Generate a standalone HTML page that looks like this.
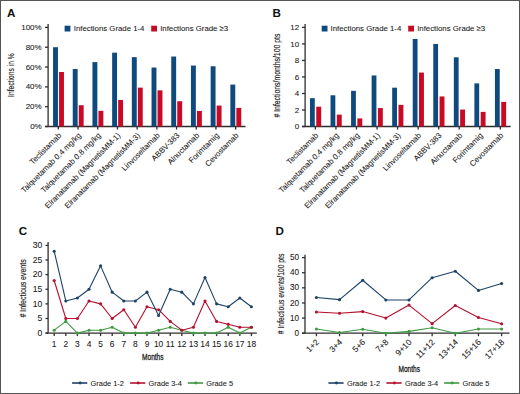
<!DOCTYPE html>
<html><head><meta charset="utf-8"><style>
html,body{margin:0;padding:0;background:#fff;}
body{width:520px;height:394px;overflow:hidden;}
.frame{position:relative;width:520px;height:394px;box-sizing:border-box;border:1px solid #555;background:#fff;}
svg{position:absolute;left:-1px;top:-1px;}
text{font-family:"Liberation Sans", sans-serif;}
</style></head><body><div class="frame">
<svg width="520" height="394" viewBox="0 0 520 394" font-family="Liberation Sans, sans-serif">
<text x="6.90" y="16.80" font-size="11.6" text-anchor="start" fill="#111" font-weight="bold" >A</text>
<line x1="48.10" y1="24.00" x2="48.10" y2="126.50" stroke="#2e2e2e" stroke-width="1.3"/>
<line x1="45.00" y1="27.40" x2="48.10" y2="27.40" stroke="#2e2e2e" stroke-width="1.3"/>
<text x="41.70" y="29.90" font-size="8" text-anchor="end" fill="#1a1a1a" font-weight="normal" stroke="#1a1a1a" stroke-width="0.08" >100%</text>
<line x1="45.00" y1="47.22" x2="48.10" y2="47.22" stroke="#2e2e2e" stroke-width="1.3"/>
<text x="41.70" y="49.72" font-size="8" text-anchor="end" fill="#1a1a1a" font-weight="normal" stroke="#1a1a1a" stroke-width="0.08" >80%</text>
<line x1="45.00" y1="67.04" x2="48.10" y2="67.04" stroke="#2e2e2e" stroke-width="1.3"/>
<text x="41.70" y="69.54" font-size="8" text-anchor="end" fill="#1a1a1a" font-weight="normal" stroke="#1a1a1a" stroke-width="0.08" >60%</text>
<line x1="45.00" y1="86.86" x2="48.10" y2="86.86" stroke="#2e2e2e" stroke-width="1.3"/>
<text x="41.70" y="89.36" font-size="8" text-anchor="end" fill="#1a1a1a" font-weight="normal" stroke="#1a1a1a" stroke-width="0.08" >40%</text>
<line x1="45.00" y1="106.68" x2="48.10" y2="106.68" stroke="#2e2e2e" stroke-width="1.3"/>
<text x="41.70" y="109.18" font-size="8" text-anchor="end" fill="#1a1a1a" font-weight="normal" stroke="#1a1a1a" stroke-width="0.08" >20%</text>
<line x1="45.00" y1="126.50" x2="48.10" y2="126.50" stroke="#2e2e2e" stroke-width="1.3"/>
<text x="41.70" y="129.00" font-size="8" text-anchor="end" fill="#1a1a1a" font-weight="normal" stroke="#1a1a1a" stroke-width="0.08" >0%</text>
<line x1="45.00" y1="126.50" x2="245.50" y2="126.50" stroke="#2e2e2e" stroke-width="1.3"/>
<line x1="58.35" y1="126.50" x2="58.35" y2="129.50" stroke="#2e2e2e" stroke-width="1.3"/>
<rect x="53.05" y="47.22" width="4.90" height="79.28" fill="#0f4a7e"/>
<rect x="59.05" y="72.00" width="4.90" height="54.51" fill="#c90a24"/>
<text transform="translate(61.85,136.00) rotate(-45)" x="0" y="0" font-size="7.8" text-anchor="end" fill="#1a1a1a" stroke="#1a1a1a" stroke-width="0.08">Teclistamab</text>
<line x1="78.05" y1="126.50" x2="78.05" y2="129.50" stroke="#2e2e2e" stroke-width="1.3"/>
<rect x="72.75" y="69.02" width="4.90" height="57.48" fill="#0f4a7e"/>
<rect x="78.75" y="105.19" width="4.90" height="21.31" fill="#c90a24"/>
<text transform="translate(81.55,136.00) rotate(-45)" x="0" y="0" font-size="7.8" text-anchor="end" fill="#1a1a1a" stroke="#1a1a1a" stroke-width="0.08">Talquetamab 0.4 mg/kg</text>
<line x1="97.75" y1="126.50" x2="97.75" y2="129.50" stroke="#2e2e2e" stroke-width="1.3"/>
<rect x="92.45" y="62.09" width="4.90" height="64.41" fill="#0f4a7e"/>
<rect x="98.45" y="110.84" width="4.90" height="15.66" fill="#c90a24"/>
<text transform="translate(101.25,136.00) rotate(-45)" x="0" y="0" font-size="7.8" text-anchor="end" fill="#1a1a1a" stroke="#1a1a1a" stroke-width="0.08">Talquetamab 0.8 mg/kg</text>
<line x1="117.45" y1="126.50" x2="117.45" y2="129.50" stroke="#2e2e2e" stroke-width="1.3"/>
<rect x="112.15" y="52.67" width="4.90" height="73.83" fill="#0f4a7e"/>
<rect x="118.15" y="99.94" width="4.90" height="26.56" fill="#c90a24"/>
<text transform="translate(120.95,136.00) rotate(-45)" x="0" y="0" font-size="7.8" text-anchor="end" fill="#1a1a1a" stroke="#1a1a1a" stroke-width="0.08">Elranatamab (MagnetisMM-1)</text>
<line x1="137.15" y1="126.50" x2="137.15" y2="129.50" stroke="#2e2e2e" stroke-width="1.3"/>
<rect x="131.85" y="57.13" width="4.90" height="69.37" fill="#0f4a7e"/>
<rect x="137.85" y="87.65" width="4.90" height="38.85" fill="#c90a24"/>
<text transform="translate(140.65,136.00) rotate(-45)" x="0" y="0" font-size="7.8" text-anchor="end" fill="#1a1a1a" stroke="#1a1a1a" stroke-width="0.08">Elranatamab (MagnetisMM-3)</text>
<line x1="156.85" y1="126.50" x2="156.85" y2="129.50" stroke="#2e2e2e" stroke-width="1.3"/>
<rect x="151.55" y="67.54" width="4.90" height="58.96" fill="#0f4a7e"/>
<rect x="157.55" y="90.33" width="4.90" height="36.17" fill="#c90a24"/>
<text transform="translate(160.35,136.00) rotate(-45)" x="0" y="0" font-size="7.8" text-anchor="end" fill="#1a1a1a" stroke="#1a1a1a" stroke-width="0.08">Linvoseltamab</text>
<line x1="176.55" y1="126.50" x2="176.55" y2="129.50" stroke="#2e2e2e" stroke-width="1.3"/>
<rect x="171.25" y="56.54" width="4.90" height="69.96" fill="#0f4a7e"/>
<rect x="177.25" y="101.23" width="4.90" height="25.27" fill="#c90a24"/>
<text transform="translate(180.05,136.00) rotate(-45)" x="0" y="0" font-size="7.8" text-anchor="end" fill="#1a1a1a" stroke="#1a1a1a" stroke-width="0.08">ABBV-383</text>
<line x1="196.25" y1="126.50" x2="196.25" y2="129.50" stroke="#2e2e2e" stroke-width="1.3"/>
<rect x="190.95" y="65.55" width="4.90" height="60.95" fill="#0f4a7e"/>
<rect x="196.95" y="110.94" width="4.90" height="15.56" fill="#c90a24"/>
<text transform="translate(199.75,136.00) rotate(-45)" x="0" y="0" font-size="7.8" text-anchor="end" fill="#1a1a1a" stroke="#1a1a1a" stroke-width="0.08">Alnuctamab</text>
<line x1="215.95" y1="126.50" x2="215.95" y2="129.50" stroke="#2e2e2e" stroke-width="1.3"/>
<rect x="210.65" y="66.25" width="4.90" height="60.25" fill="#0f4a7e"/>
<rect x="216.65" y="105.59" width="4.90" height="20.91" fill="#c90a24"/>
<text transform="translate(219.45,136.00) rotate(-45)" x="0" y="0" font-size="7.8" text-anchor="end" fill="#1a1a1a" stroke="#1a1a1a" stroke-width="0.08">Forimtamig</text>
<line x1="235.65" y1="126.50" x2="235.65" y2="129.50" stroke="#2e2e2e" stroke-width="1.3"/>
<rect x="230.35" y="84.58" width="4.90" height="41.92" fill="#0f4a7e"/>
<rect x="236.35" y="107.87" width="4.90" height="18.63" fill="#c90a24"/>
<text transform="translate(239.15,136.00) rotate(-45)" x="0" y="0" font-size="7.8" text-anchor="end" fill="#1a1a1a" stroke="#1a1a1a" stroke-width="0.08">Cevostamab</text>
<rect x="64.60" y="25.70" width="5.80" height="5.80" fill="#0f4a7e"/>
<text x="73.80" y="31.30" font-size="7.8" text-anchor="start" fill="#1a1a1a" font-weight="normal" stroke="#1a1a1a" stroke-width="0.08" >Infections Grade 1-4</text>
<rect x="151.20" y="25.70" width="5.80" height="5.80" fill="#c90a24"/>
<text x="160.20" y="31.30" font-size="7.8" text-anchor="start" fill="#1a1a1a" font-weight="normal" stroke="#1a1a1a" stroke-width="0.08" >Infections Grade &#8805;3</text>
<text transform="translate(14.30,75.10) rotate(-90)" x="0" y="0" font-size="9.4" text-anchor="middle" textLength="43.6" lengthAdjust="spacingAndGlyphs" fill="#1a1a1a" stroke="#1a1a1a" stroke-width="0.15">Infections in %</text>
<text x="272.60" y="16.70" font-size="11.6" text-anchor="start" fill="#111" font-weight="bold" >B</text>
<line x1="305.10" y1="24.00" x2="305.10" y2="126.50" stroke="#2e2e2e" stroke-width="1.3"/>
<line x1="302.00" y1="27.40" x2="305.10" y2="27.40" stroke="#2e2e2e" stroke-width="1.3"/>
<text x="299.20" y="30.10" font-size="8" text-anchor="end" fill="#1a1a1a" font-weight="normal" stroke="#1a1a1a" stroke-width="0.08" >12</text>
<line x1="302.00" y1="43.92" x2="305.10" y2="43.92" stroke="#2e2e2e" stroke-width="1.3"/>
<text x="299.20" y="46.62" font-size="8" text-anchor="end" fill="#1a1a1a" font-weight="normal" stroke="#1a1a1a" stroke-width="0.08" >10</text>
<line x1="302.00" y1="60.43" x2="305.10" y2="60.43" stroke="#2e2e2e" stroke-width="1.3"/>
<text x="299.20" y="63.13" font-size="8" text-anchor="end" fill="#1a1a1a" font-weight="normal" stroke="#1a1a1a" stroke-width="0.08" >8</text>
<line x1="302.00" y1="76.95" x2="305.10" y2="76.95" stroke="#2e2e2e" stroke-width="1.3"/>
<text x="299.20" y="79.65" font-size="8" text-anchor="end" fill="#1a1a1a" font-weight="normal" stroke="#1a1a1a" stroke-width="0.08" >6</text>
<line x1="302.00" y1="93.47" x2="305.10" y2="93.47" stroke="#2e2e2e" stroke-width="1.3"/>
<text x="299.20" y="96.17" font-size="8" text-anchor="end" fill="#1a1a1a" font-weight="normal" stroke="#1a1a1a" stroke-width="0.08" >4</text>
<line x1="302.00" y1="109.98" x2="305.10" y2="109.98" stroke="#2e2e2e" stroke-width="1.3"/>
<text x="299.20" y="112.68" font-size="8" text-anchor="end" fill="#1a1a1a" font-weight="normal" stroke="#1a1a1a" stroke-width="0.08" >2</text>
<line x1="302.00" y1="126.50" x2="305.10" y2="126.50" stroke="#2e2e2e" stroke-width="1.3"/>
<text x="299.20" y="129.20" font-size="8" text-anchor="end" fill="#1a1a1a" font-weight="normal" stroke="#1a1a1a" stroke-width="0.08" >0</text>
<line x1="302.00" y1="126.50" x2="510.60" y2="126.50" stroke="#2e2e2e" stroke-width="1.3"/>
<line x1="315.38" y1="126.50" x2="315.38" y2="129.50" stroke="#2e2e2e" stroke-width="1.3"/>
<rect x="309.98" y="98.17" width="4.80" height="28.33" fill="#0f4a7e"/>
<rect x="316.27" y="106.68" width="4.90" height="19.82" fill="#c90a24"/>
<text transform="translate(318.88,136.00) rotate(-45)" x="0" y="0" font-size="7.8" text-anchor="end" fill="#1a1a1a" stroke="#1a1a1a" stroke-width="0.08">Teclistamab</text>
<line x1="335.93" y1="126.50" x2="335.93" y2="129.50" stroke="#2e2e2e" stroke-width="1.3"/>
<rect x="330.53" y="95.28" width="4.80" height="31.22" fill="#0f4a7e"/>
<rect x="336.82" y="114.61" width="4.90" height="11.89" fill="#c90a24"/>
<text transform="translate(339.43,136.00) rotate(-45)" x="0" y="0" font-size="7.8" text-anchor="end" fill="#1a1a1a" stroke="#1a1a1a" stroke-width="0.08">Talquetamab 0.4 mg/kg</text>
<line x1="356.48" y1="126.50" x2="356.48" y2="129.50" stroke="#2e2e2e" stroke-width="1.3"/>
<rect x="351.08" y="90.82" width="4.80" height="35.68" fill="#0f4a7e"/>
<rect x="357.38" y="118.41" width="4.90" height="8.09" fill="#c90a24"/>
<text transform="translate(359.98,136.00) rotate(-45)" x="0" y="0" font-size="7.8" text-anchor="end" fill="#1a1a1a" stroke="#1a1a1a" stroke-width="0.08">Talquetamab 0.8 mg/kg</text>
<line x1="377.03" y1="126.50" x2="377.03" y2="129.50" stroke="#2e2e2e" stroke-width="1.3"/>
<rect x="371.63" y="75.46" width="4.80" height="51.04" fill="#0f4a7e"/>
<rect x="377.93" y="108.08" width="4.90" height="18.42" fill="#c90a24"/>
<text transform="translate(380.53,136.00) rotate(-45)" x="0" y="0" font-size="7.8" text-anchor="end" fill="#1a1a1a" stroke="#1a1a1a" stroke-width="0.08">Elranatamab (MagnetisMM-1)</text>
<line x1="397.58" y1="126.50" x2="397.58" y2="129.50" stroke="#2e2e2e" stroke-width="1.3"/>
<rect x="392.18" y="87.69" width="4.80" height="38.81" fill="#0f4a7e"/>
<rect x="398.48" y="104.86" width="4.90" height="21.64" fill="#c90a24"/>
<text transform="translate(401.08,136.00) rotate(-45)" x="0" y="0" font-size="7.8" text-anchor="end" fill="#1a1a1a" stroke="#1a1a1a" stroke-width="0.08">Elranatamab (MagnetisMM-3)</text>
<line x1="418.12" y1="126.50" x2="418.12" y2="129.50" stroke="#2e2e2e" stroke-width="1.3"/>
<rect x="412.73" y="38.96" width="4.80" height="87.54" fill="#0f4a7e"/>
<rect x="419.02" y="72.57" width="4.90" height="53.93" fill="#c90a24"/>
<text transform="translate(421.62,136.00) rotate(-45)" x="0" y="0" font-size="7.8" text-anchor="end" fill="#1a1a1a" stroke="#1a1a1a" stroke-width="0.08">Linvoseltamab</text>
<line x1="438.68" y1="126.50" x2="438.68" y2="129.50" stroke="#2e2e2e" stroke-width="1.3"/>
<rect x="433.28" y="43.92" width="4.80" height="82.58" fill="#0f4a7e"/>
<rect x="439.58" y="96.44" width="4.90" height="30.06" fill="#c90a24"/>
<text transform="translate(442.18,136.00) rotate(-45)" x="0" y="0" font-size="7.8" text-anchor="end" fill="#1a1a1a" stroke="#1a1a1a" stroke-width="0.08">ABBV-383</text>
<line x1="459.23" y1="126.50" x2="459.23" y2="129.50" stroke="#2e2e2e" stroke-width="1.3"/>
<rect x="453.83" y="57.30" width="4.80" height="69.20" fill="#0f4a7e"/>
<rect x="460.12" y="109.57" width="4.90" height="16.93" fill="#c90a24"/>
<text transform="translate(462.73,136.00) rotate(-45)" x="0" y="0" font-size="7.8" text-anchor="end" fill="#1a1a1a" stroke="#1a1a1a" stroke-width="0.08">Alnuctamab</text>
<line x1="479.78" y1="126.50" x2="479.78" y2="129.50" stroke="#2e2e2e" stroke-width="1.3"/>
<rect x="474.38" y="83.39" width="4.80" height="43.11" fill="#0f4a7e"/>
<rect x="480.68" y="111.88" width="4.90" height="14.62" fill="#c90a24"/>
<text transform="translate(483.28,136.00) rotate(-45)" x="0" y="0" font-size="7.8" text-anchor="end" fill="#1a1a1a" stroke="#1a1a1a" stroke-width="0.08">Forimtamig</text>
<line x1="500.33" y1="126.50" x2="500.33" y2="129.50" stroke="#2e2e2e" stroke-width="1.3"/>
<rect x="494.93" y="69.02" width="4.80" height="57.48" fill="#0f4a7e"/>
<rect x="501.23" y="101.89" width="4.90" height="24.61" fill="#c90a24"/>
<text transform="translate(503.83,136.00) rotate(-45)" x="0" y="0" font-size="7.8" text-anchor="end" fill="#1a1a1a" stroke="#1a1a1a" stroke-width="0.08">Cevostamab</text>
<rect x="321.70" y="25.70" width="5.80" height="5.80" fill="#0f4a7e"/>
<text x="330.60" y="31.30" font-size="7.8" text-anchor="start" fill="#1a1a1a" font-weight="normal" stroke="#1a1a1a" stroke-width="0.08" >Infections Grade 1-4</text>
<rect x="408.20" y="25.70" width="5.80" height="5.80" fill="#c90a24"/>
<text x="417.20" y="31.30" font-size="7.8" text-anchor="start" fill="#1a1a1a" font-weight="normal" stroke="#1a1a1a" stroke-width="0.08" >Infections Grade &#8805;3</text>
<text transform="translate(280.40,75.60) rotate(-90)" x="0" y="0" font-size="9.4" text-anchor="middle" textLength="83.9" lengthAdjust="spacingAndGlyphs" fill="#1a1a1a" stroke="#1a1a1a" stroke-width="0.15"># Infections/months/100 pts</text>
<text x="18.70" y="234.80" font-size="11.6" text-anchor="start" fill="#111" font-weight="bold" >C</text>
<line x1="48.10" y1="242.00" x2="48.10" y2="333.10" stroke="#2e2e2e" stroke-width="1.3"/>
<line x1="45.50" y1="245.40" x2="48.10" y2="245.40" stroke="#2e2e2e" stroke-width="1.3"/>
<text x="42.30" y="248.20" font-size="8.6" text-anchor="end" fill="#1a1a1a" font-weight="normal" stroke="#1a1a1a" stroke-width="0.08" >30</text>
<line x1="45.50" y1="260.02" x2="48.10" y2="260.02" stroke="#2e2e2e" stroke-width="1.3"/>
<text x="42.30" y="262.82" font-size="8.6" text-anchor="end" fill="#1a1a1a" font-weight="normal" stroke="#1a1a1a" stroke-width="0.08" >25</text>
<line x1="45.50" y1="274.63" x2="48.10" y2="274.63" stroke="#2e2e2e" stroke-width="1.3"/>
<text x="42.30" y="277.43" font-size="8.6" text-anchor="end" fill="#1a1a1a" font-weight="normal" stroke="#1a1a1a" stroke-width="0.08" >20</text>
<line x1="45.50" y1="289.25" x2="48.10" y2="289.25" stroke="#2e2e2e" stroke-width="1.3"/>
<text x="42.30" y="292.05" font-size="8.6" text-anchor="end" fill="#1a1a1a" font-weight="normal" stroke="#1a1a1a" stroke-width="0.08" >15</text>
<line x1="45.50" y1="303.87" x2="48.10" y2="303.87" stroke="#2e2e2e" stroke-width="1.3"/>
<text x="42.30" y="306.67" font-size="8.6" text-anchor="end" fill="#1a1a1a" font-weight="normal" stroke="#1a1a1a" stroke-width="0.08" >10</text>
<line x1="45.50" y1="318.48" x2="48.10" y2="318.48" stroke="#2e2e2e" stroke-width="1.3"/>
<text x="42.30" y="321.28" font-size="8.6" text-anchor="end" fill="#1a1a1a" font-weight="normal" stroke="#1a1a1a" stroke-width="0.08" >5</text>
<line x1="45.50" y1="333.10" x2="48.10" y2="333.10" stroke="#2e2e2e" stroke-width="1.3"/>
<text x="42.30" y="335.90" font-size="8.6" text-anchor="end" fill="#1a1a1a" font-weight="normal" stroke="#1a1a1a" stroke-width="0.08" >0</text>
<line x1="45.50" y1="333.10" x2="256.80" y2="333.10" stroke="#2e2e2e" stroke-width="1.3"/>
<line x1="54.20" y1="333.10" x2="54.20" y2="336.10" stroke="#2e2e2e" stroke-width="1.3"/>
<text x="54.20" y="347.10" font-size="8.4" text-anchor="middle" fill="#1a1a1a" font-weight="normal" stroke="#1a1a1a" stroke-width="0.08" >1</text>
<line x1="65.80" y1="333.10" x2="65.80" y2="336.10" stroke="#2e2e2e" stroke-width="1.3"/>
<text x="65.80" y="347.10" font-size="8.4" text-anchor="middle" fill="#1a1a1a" font-weight="normal" stroke="#1a1a1a" stroke-width="0.08" >2</text>
<line x1="77.40" y1="333.10" x2="77.40" y2="336.10" stroke="#2e2e2e" stroke-width="1.3"/>
<text x="77.40" y="347.10" font-size="8.4" text-anchor="middle" fill="#1a1a1a" font-weight="normal" stroke="#1a1a1a" stroke-width="0.08" >3</text>
<line x1="89.00" y1="333.10" x2="89.00" y2="336.10" stroke="#2e2e2e" stroke-width="1.3"/>
<text x="89.00" y="347.10" font-size="8.4" text-anchor="middle" fill="#1a1a1a" font-weight="normal" stroke="#1a1a1a" stroke-width="0.08" >4</text>
<line x1="100.60" y1="333.10" x2="100.60" y2="336.10" stroke="#2e2e2e" stroke-width="1.3"/>
<text x="100.60" y="347.10" font-size="8.4" text-anchor="middle" fill="#1a1a1a" font-weight="normal" stroke="#1a1a1a" stroke-width="0.08" >5</text>
<line x1="112.20" y1="333.10" x2="112.20" y2="336.10" stroke="#2e2e2e" stroke-width="1.3"/>
<text x="112.20" y="347.10" font-size="8.4" text-anchor="middle" fill="#1a1a1a" font-weight="normal" stroke="#1a1a1a" stroke-width="0.08" >6</text>
<line x1="123.80" y1="333.10" x2="123.80" y2="336.10" stroke="#2e2e2e" stroke-width="1.3"/>
<text x="123.80" y="347.10" font-size="8.4" text-anchor="middle" fill="#1a1a1a" font-weight="normal" stroke="#1a1a1a" stroke-width="0.08" >7</text>
<line x1="135.40" y1="333.10" x2="135.40" y2="336.10" stroke="#2e2e2e" stroke-width="1.3"/>
<text x="135.40" y="347.10" font-size="8.4" text-anchor="middle" fill="#1a1a1a" font-weight="normal" stroke="#1a1a1a" stroke-width="0.08" >8</text>
<line x1="147.00" y1="333.10" x2="147.00" y2="336.10" stroke="#2e2e2e" stroke-width="1.3"/>
<text x="147.00" y="347.10" font-size="8.4" text-anchor="middle" fill="#1a1a1a" font-weight="normal" stroke="#1a1a1a" stroke-width="0.08" >9</text>
<line x1="158.60" y1="333.10" x2="158.60" y2="336.10" stroke="#2e2e2e" stroke-width="1.3"/>
<text x="158.60" y="347.10" font-size="8.4" text-anchor="middle" fill="#1a1a1a" font-weight="normal" stroke="#1a1a1a" stroke-width="0.08" >10</text>
<line x1="170.20" y1="333.10" x2="170.20" y2="336.10" stroke="#2e2e2e" stroke-width="1.3"/>
<text x="170.20" y="347.10" font-size="8.4" text-anchor="middle" fill="#1a1a1a" font-weight="normal" stroke="#1a1a1a" stroke-width="0.08" >11</text>
<line x1="181.80" y1="333.10" x2="181.80" y2="336.10" stroke="#2e2e2e" stroke-width="1.3"/>
<text x="181.80" y="347.10" font-size="8.4" text-anchor="middle" fill="#1a1a1a" font-weight="normal" stroke="#1a1a1a" stroke-width="0.08" >12</text>
<line x1="193.40" y1="333.10" x2="193.40" y2="336.10" stroke="#2e2e2e" stroke-width="1.3"/>
<text x="193.40" y="347.10" font-size="8.4" text-anchor="middle" fill="#1a1a1a" font-weight="normal" stroke="#1a1a1a" stroke-width="0.08" >13</text>
<line x1="205.00" y1="333.10" x2="205.00" y2="336.10" stroke="#2e2e2e" stroke-width="1.3"/>
<text x="205.00" y="347.10" font-size="8.4" text-anchor="middle" fill="#1a1a1a" font-weight="normal" stroke="#1a1a1a" stroke-width="0.08" >14</text>
<line x1="216.60" y1="333.10" x2="216.60" y2="336.10" stroke="#2e2e2e" stroke-width="1.3"/>
<text x="216.60" y="347.10" font-size="8.4" text-anchor="middle" fill="#1a1a1a" font-weight="normal" stroke="#1a1a1a" stroke-width="0.08" >15</text>
<line x1="228.20" y1="333.10" x2="228.20" y2="336.10" stroke="#2e2e2e" stroke-width="1.3"/>
<text x="228.20" y="347.10" font-size="8.4" text-anchor="middle" fill="#1a1a1a" font-weight="normal" stroke="#1a1a1a" stroke-width="0.08" >16</text>
<line x1="239.80" y1="333.10" x2="239.80" y2="336.10" stroke="#2e2e2e" stroke-width="1.3"/>
<text x="239.80" y="347.10" font-size="8.4" text-anchor="middle" fill="#1a1a1a" font-weight="normal" stroke="#1a1a1a" stroke-width="0.08" >17</text>
<line x1="251.40" y1="333.10" x2="251.40" y2="336.10" stroke="#2e2e2e" stroke-width="1.3"/>
<text x="251.40" y="347.10" font-size="8.4" text-anchor="middle" fill="#1a1a1a" font-weight="normal" stroke="#1a1a1a" stroke-width="0.08" >18</text>
<polyline points="54.20,330.18 65.80,321.41 77.40,333.10 89.00,330.18 100.60,330.18 112.20,327.25 123.80,333.10 135.40,333.10 147.00,333.10 158.60,330.18 170.20,327.25 181.80,330.18 193.40,333.10 205.00,333.10 216.60,333.10 228.20,327.25 239.80,333.10 251.40,327.25" fill="none" stroke="#3f9a42" stroke-width="1.1" stroke-linejoin="round"/>
<circle cx="54.20" cy="330.18" r="1.55" fill="#3f9a42"/>
<circle cx="65.80" cy="321.41" r="1.55" fill="#3f9a42"/>
<circle cx="77.40" cy="333.10" r="1.55" fill="#3f9a42"/>
<circle cx="89.00" cy="330.18" r="1.55" fill="#3f9a42"/>
<circle cx="100.60" cy="330.18" r="1.55" fill="#3f9a42"/>
<circle cx="112.20" cy="327.25" r="1.55" fill="#3f9a42"/>
<circle cx="123.80" cy="333.10" r="1.55" fill="#3f9a42"/>
<circle cx="135.40" cy="333.10" r="1.55" fill="#3f9a42"/>
<circle cx="147.00" cy="333.10" r="1.55" fill="#3f9a42"/>
<circle cx="158.60" cy="330.18" r="1.55" fill="#3f9a42"/>
<circle cx="170.20" cy="327.25" r="1.55" fill="#3f9a42"/>
<circle cx="181.80" cy="330.18" r="1.55" fill="#3f9a42"/>
<circle cx="193.40" cy="333.10" r="1.55" fill="#3f9a42"/>
<circle cx="205.00" cy="333.10" r="1.55" fill="#3f9a42"/>
<circle cx="216.60" cy="333.10" r="1.55" fill="#3f9a42"/>
<circle cx="228.20" cy="327.25" r="1.55" fill="#3f9a42"/>
<circle cx="239.80" cy="333.10" r="1.55" fill="#3f9a42"/>
<circle cx="251.40" cy="327.25" r="1.55" fill="#3f9a42"/>
<polyline points="54.20,280.48 65.80,318.48 77.40,318.48 89.00,300.94 100.60,303.87 112.20,318.48 123.80,309.71 135.40,327.25 147.00,306.79 158.60,309.71 170.20,321.41 181.80,330.18 193.40,327.25 205.00,300.94 216.60,321.41 228.20,324.33 239.80,327.25 251.40,327.25" fill="none" stroke="#b3102f" stroke-width="1.1" stroke-linejoin="round"/>
<circle cx="54.20" cy="280.48" r="1.55" fill="#b3102f"/>
<circle cx="65.80" cy="318.48" r="1.55" fill="#b3102f"/>
<circle cx="77.40" cy="318.48" r="1.55" fill="#b3102f"/>
<circle cx="89.00" cy="300.94" r="1.55" fill="#b3102f"/>
<circle cx="100.60" cy="303.87" r="1.55" fill="#b3102f"/>
<circle cx="112.20" cy="318.48" r="1.55" fill="#b3102f"/>
<circle cx="123.80" cy="309.71" r="1.55" fill="#b3102f"/>
<circle cx="135.40" cy="327.25" r="1.55" fill="#b3102f"/>
<circle cx="147.00" cy="306.79" r="1.55" fill="#b3102f"/>
<circle cx="158.60" cy="309.71" r="1.55" fill="#b3102f"/>
<circle cx="170.20" cy="321.41" r="1.55" fill="#b3102f"/>
<circle cx="181.80" cy="330.18" r="1.55" fill="#b3102f"/>
<circle cx="193.40" cy="327.25" r="1.55" fill="#b3102f"/>
<circle cx="205.00" cy="300.94" r="1.55" fill="#b3102f"/>
<circle cx="216.60" cy="321.41" r="1.55" fill="#b3102f"/>
<circle cx="228.20" cy="324.33" r="1.55" fill="#b3102f"/>
<circle cx="239.80" cy="327.25" r="1.55" fill="#b3102f"/>
<circle cx="251.40" cy="327.25" r="1.55" fill="#b3102f"/>
<polyline points="54.20,251.25 65.80,300.94 77.40,298.02 89.00,289.25 100.60,265.86 112.20,292.17 123.80,300.94 135.40,300.94 147.00,292.17 158.60,315.56 170.20,289.25 181.80,292.17 193.40,303.87 205.00,277.56 216.60,303.87 228.20,306.79 239.80,298.02 251.40,306.79" fill="none" stroke="#1c4268" stroke-width="1.1" stroke-linejoin="round"/>
<circle cx="54.20" cy="251.25" r="1.55" fill="#1c4268"/>
<circle cx="65.80" cy="300.94" r="1.55" fill="#1c4268"/>
<circle cx="77.40" cy="298.02" r="1.55" fill="#1c4268"/>
<circle cx="89.00" cy="289.25" r="1.55" fill="#1c4268"/>
<circle cx="100.60" cy="265.86" r="1.55" fill="#1c4268"/>
<circle cx="112.20" cy="292.17" r="1.55" fill="#1c4268"/>
<circle cx="123.80" cy="300.94" r="1.55" fill="#1c4268"/>
<circle cx="135.40" cy="300.94" r="1.55" fill="#1c4268"/>
<circle cx="147.00" cy="292.17" r="1.55" fill="#1c4268"/>
<circle cx="158.60" cy="315.56" r="1.55" fill="#1c4268"/>
<circle cx="170.20" cy="289.25" r="1.55" fill="#1c4268"/>
<circle cx="181.80" cy="292.17" r="1.55" fill="#1c4268"/>
<circle cx="193.40" cy="303.87" r="1.55" fill="#1c4268"/>
<circle cx="205.00" cy="277.56" r="1.55" fill="#1c4268"/>
<circle cx="216.60" cy="303.87" r="1.55" fill="#1c4268"/>
<circle cx="228.20" cy="306.79" r="1.55" fill="#1c4268"/>
<circle cx="239.80" cy="298.02" r="1.55" fill="#1c4268"/>
<circle cx="251.40" cy="306.79" r="1.55" fill="#1c4268"/>
<text transform="translate(25.70,288.40) rotate(-90)" x="0" y="0" font-size="9.2" text-anchor="middle" textLength="58.1" lengthAdjust="spacingAndGlyphs" fill="#1a1a1a" stroke="#1a1a1a" stroke-width="0.15"># Infectious events</text>
<text x="152.80" y="359.60" font-size="9.6" text-anchor="middle" textLength="21.5" lengthAdjust="spacingAndGlyphs" fill="#1a1a1a" stroke="#1a1a1a" stroke-width="0.3">Months</text>
<line x1="72.10" y1="383.00" x2="87.30" y2="383.00" stroke="#1c4268" stroke-width="1.6"/>
<circle cx="80.10" cy="383" r="1.4" fill="#1c4268"/>
<text x="90.60" y="385.60" font-size="7.4" text-anchor="start" fill="#1a1a1a" font-weight="normal" stroke="#1a1a1a" stroke-width="0.08" >Grade 1-2</text>
<line x1="130.10" y1="383.00" x2="145.30" y2="383.00" stroke="#b3102f" stroke-width="1.6"/>
<circle cx="138.10" cy="383" r="1.4" fill="#b3102f"/>
<text x="148.60" y="385.60" font-size="7.4" text-anchor="start" fill="#1a1a1a" font-weight="normal" stroke="#1a1a1a" stroke-width="0.08" >Grade 3-4</text>
<line x1="187.80" y1="383.00" x2="203.00" y2="383.00" stroke="#3f9a42" stroke-width="1.6"/>
<circle cx="195.80" cy="383" r="1.4" fill="#3f9a42"/>
<text x="206.30" y="385.60" font-size="7.4" text-anchor="start" fill="#1a1a1a" font-weight="normal" stroke="#1a1a1a" stroke-width="0.08" >Grade 5</text>
<text x="275.60" y="235.10" font-size="11.6" text-anchor="start" fill="#111" font-weight="bold" >D</text>
<line x1="305.00" y1="254.70" x2="305.00" y2="333.20" stroke="#2e2e2e" stroke-width="1.3"/>
<line x1="302.00" y1="257.60" x2="305.00" y2="257.60" stroke="#2e2e2e" stroke-width="1.3"/>
<text x="299.00" y="260.20" font-size="8.2" text-anchor="end" fill="#1a1a1a" font-weight="normal" stroke="#1a1a1a" stroke-width="0.08" >50</text>
<line x1="302.00" y1="272.72" x2="305.00" y2="272.72" stroke="#2e2e2e" stroke-width="1.3"/>
<text x="299.00" y="275.32" font-size="8.2" text-anchor="end" fill="#1a1a1a" font-weight="normal" stroke="#1a1a1a" stroke-width="0.08" >40</text>
<line x1="302.00" y1="287.84" x2="305.00" y2="287.84" stroke="#2e2e2e" stroke-width="1.3"/>
<text x="299.00" y="290.44" font-size="8.2" text-anchor="end" fill="#1a1a1a" font-weight="normal" stroke="#1a1a1a" stroke-width="0.08" >30</text>
<line x1="302.00" y1="302.96" x2="305.00" y2="302.96" stroke="#2e2e2e" stroke-width="1.3"/>
<text x="299.00" y="305.56" font-size="8.2" text-anchor="end" fill="#1a1a1a" font-weight="normal" stroke="#1a1a1a" stroke-width="0.08" >20</text>
<line x1="302.00" y1="318.08" x2="305.00" y2="318.08" stroke="#2e2e2e" stroke-width="1.3"/>
<text x="299.00" y="320.68" font-size="8.2" text-anchor="end" fill="#1a1a1a" font-weight="normal" stroke="#1a1a1a" stroke-width="0.08" >10</text>
<line x1="302.00" y1="333.20" x2="305.00" y2="333.20" stroke="#2e2e2e" stroke-width="1.3"/>
<text x="299.00" y="335.80" font-size="8.2" text-anchor="end" fill="#1a1a1a" font-weight="normal" stroke="#1a1a1a" stroke-width="0.08" >0</text>
<line x1="302.00" y1="333.20" x2="509.50" y2="333.20" stroke="#2e2e2e" stroke-width="1.3"/>
<line x1="316.40" y1="333.20" x2="316.40" y2="336.20" stroke="#2e2e2e" stroke-width="1.3"/>
<text transform="translate(319.60,342.80) rotate(-45)" x="0" y="0" font-size="8.4" text-anchor="end" fill="#1a1a1a" stroke="#1a1a1a" stroke-width="0.08">1+2</text>
<line x1="339.55" y1="333.20" x2="339.55" y2="336.20" stroke="#2e2e2e" stroke-width="1.3"/>
<text transform="translate(342.75,342.80) rotate(-45)" x="0" y="0" font-size="8.4" text-anchor="end" fill="#1a1a1a" stroke="#1a1a1a" stroke-width="0.08">3+4</text>
<line x1="362.70" y1="333.20" x2="362.70" y2="336.20" stroke="#2e2e2e" stroke-width="1.3"/>
<text transform="translate(365.90,342.80) rotate(-45)" x="0" y="0" font-size="8.4" text-anchor="end" fill="#1a1a1a" stroke="#1a1a1a" stroke-width="0.08">5+6</text>
<line x1="385.85" y1="333.20" x2="385.85" y2="336.20" stroke="#2e2e2e" stroke-width="1.3"/>
<text transform="translate(389.05,342.80) rotate(-45)" x="0" y="0" font-size="8.4" text-anchor="end" fill="#1a1a1a" stroke="#1a1a1a" stroke-width="0.08">7+8</text>
<line x1="409.00" y1="333.20" x2="409.00" y2="336.20" stroke="#2e2e2e" stroke-width="1.3"/>
<text transform="translate(412.20,342.80) rotate(-45)" x="0" y="0" font-size="8.4" text-anchor="end" fill="#1a1a1a" stroke="#1a1a1a" stroke-width="0.08">9+10</text>
<line x1="432.15" y1="333.20" x2="432.15" y2="336.20" stroke="#2e2e2e" stroke-width="1.3"/>
<text transform="translate(435.35,342.80) rotate(-45)" x="0" y="0" font-size="8.4" text-anchor="end" fill="#1a1a1a" stroke="#1a1a1a" stroke-width="0.08">11+12</text>
<line x1="455.30" y1="333.20" x2="455.30" y2="336.20" stroke="#2e2e2e" stroke-width="1.3"/>
<text transform="translate(458.50,342.80) rotate(-45)" x="0" y="0" font-size="8.4" text-anchor="end" fill="#1a1a1a" stroke="#1a1a1a" stroke-width="0.08">13+14</text>
<line x1="478.45" y1="333.20" x2="478.45" y2="336.20" stroke="#2e2e2e" stroke-width="1.3"/>
<text transform="translate(481.65,342.80) rotate(-45)" x="0" y="0" font-size="8.4" text-anchor="end" fill="#1a1a1a" stroke="#1a1a1a" stroke-width="0.08">15+16</text>
<line x1="501.60" y1="333.20" x2="501.60" y2="336.20" stroke="#2e2e2e" stroke-width="1.3"/>
<text transform="translate(504.80,342.80) rotate(-45)" x="0" y="0" font-size="8.4" text-anchor="end" fill="#1a1a1a" stroke="#1a1a1a" stroke-width="0.08">17+18</text>
<polyline points="316.40,328.97 339.55,332.44 362.70,329.27 385.85,333.20 409.00,331.39 432.15,327.76 455.30,333.20 478.45,328.97 501.60,328.97" fill="none" stroke="#3f9a42" stroke-width="1.1" stroke-linejoin="round"/>
<circle cx="316.40" cy="328.97" r="1.55" fill="#3f9a42"/>
<circle cx="339.55" cy="332.44" r="1.55" fill="#3f9a42"/>
<circle cx="362.70" cy="329.27" r="1.55" fill="#3f9a42"/>
<circle cx="385.85" cy="333.20" r="1.55" fill="#3f9a42"/>
<circle cx="409.00" cy="331.39" r="1.55" fill="#3f9a42"/>
<circle cx="432.15" cy="327.76" r="1.55" fill="#3f9a42"/>
<circle cx="455.30" cy="333.20" r="1.55" fill="#3f9a42"/>
<circle cx="478.45" cy="328.97" r="1.55" fill="#3f9a42"/>
<circle cx="501.60" cy="328.97" r="1.55" fill="#3f9a42"/>
<polyline points="316.40,312.03 339.55,313.24 362.70,311.58 385.85,318.08 409.00,305.08 432.15,323.67 455.30,305.53 478.45,317.48 501.60,323.83" fill="none" stroke="#b3102f" stroke-width="1.1" stroke-linejoin="round"/>
<circle cx="316.40" cy="312.03" r="1.55" fill="#b3102f"/>
<circle cx="339.55" cy="313.24" r="1.55" fill="#b3102f"/>
<circle cx="362.70" cy="311.58" r="1.55" fill="#b3102f"/>
<circle cx="385.85" cy="318.08" r="1.55" fill="#b3102f"/>
<circle cx="409.00" cy="305.08" r="1.55" fill="#b3102f"/>
<circle cx="432.15" cy="323.67" r="1.55" fill="#b3102f"/>
<circle cx="455.30" cy="305.53" r="1.55" fill="#b3102f"/>
<circle cx="478.45" cy="317.48" r="1.55" fill="#b3102f"/>
<circle cx="501.60" cy="323.83" r="1.55" fill="#b3102f"/>
<polyline points="316.40,297.52 339.55,299.63 362.70,280.28 385.85,299.94 409.00,299.94 432.15,277.71 455.30,271.21 478.45,290.41 501.60,283.46" fill="none" stroke="#1c4268" stroke-width="1.1" stroke-linejoin="round"/>
<circle cx="316.40" cy="297.52" r="1.55" fill="#1c4268"/>
<circle cx="339.55" cy="299.63" r="1.55" fill="#1c4268"/>
<circle cx="362.70" cy="280.28" r="1.55" fill="#1c4268"/>
<circle cx="385.85" cy="299.94" r="1.55" fill="#1c4268"/>
<circle cx="409.00" cy="299.94" r="1.55" fill="#1c4268"/>
<circle cx="432.15" cy="277.71" r="1.55" fill="#1c4268"/>
<circle cx="455.30" cy="271.21" r="1.55" fill="#1c4268"/>
<circle cx="478.45" cy="290.41" r="1.55" fill="#1c4268"/>
<circle cx="501.60" cy="283.46" r="1.55" fill="#1c4268"/>
<text transform="translate(283.60,293.90) rotate(-90)" x="0" y="0" font-size="9.4" text-anchor="middle" textLength="80.5" lengthAdjust="spacingAndGlyphs" fill="#1a1a1a" stroke="#1a1a1a" stroke-width="0.15"># Infectious events/100 pts</text>
<text x="409.20" y="371.90" font-size="9.6" text-anchor="middle" textLength="21.5" lengthAdjust="spacingAndGlyphs" fill="#1a1a1a" stroke="#1a1a1a" stroke-width="0.3">Months</text>
<line x1="328.40" y1="383.00" x2="343.60" y2="383.00" stroke="#1c4268" stroke-width="1.6"/>
<circle cx="336.40" cy="383" r="1.4" fill="#1c4268"/>
<text x="346.90" y="385.60" font-size="7.4" text-anchor="start" fill="#1a1a1a" font-weight="normal" stroke="#1a1a1a" stroke-width="0.08" >Grade 1-2</text>
<line x1="386.40" y1="383.00" x2="401.60" y2="383.00" stroke="#b3102f" stroke-width="1.6"/>
<circle cx="394.40" cy="383" r="1.4" fill="#b3102f"/>
<text x="404.90" y="385.60" font-size="7.4" text-anchor="start" fill="#1a1a1a" font-weight="normal" stroke="#1a1a1a" stroke-width="0.08" >Grade 3-4</text>
<line x1="444.10" y1="383.00" x2="459.30" y2="383.00" stroke="#3f9a42" stroke-width="1.6"/>
<circle cx="452.10" cy="383" r="1.4" fill="#3f9a42"/>
<text x="462.60" y="385.60" font-size="7.4" text-anchor="start" fill="#1a1a1a" font-weight="normal" stroke="#1a1a1a" stroke-width="0.08" >Grade 5</text>
</svg></div></body></html>
